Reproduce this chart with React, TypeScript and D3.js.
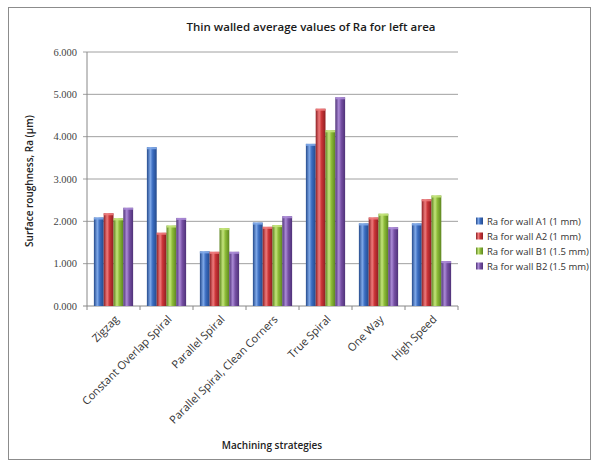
import React from "react";
import * as d3 from "d3";

const categories = [
  "Zigzag",
  "Constant Overlap Spiral",
  "Parallel Spiral",
  "Parallel Spiral, Clean Corners",
  "True Spiral",
  "One Way",
  "High Speed",
];
const seriesNames = [
  "Ra for wall A1 (1 mm)",
  "Ra for wall A2 (1 mm)",
  "Ra for wall B1 (1.5 mm)",
  "Ra for wall B2 (1.5 mm)",
];
const a1 = [2.09, 3.75, 1.29, 1.97, 3.83, 1.95, 1.95];
const a2 = [2.19, 1.73, 1.28, 1.87, 4.66, 2.09, 2.52];
const b1 = [2.07, 1.9, 1.84, 1.91, 4.15, 2.18, 2.61];
const b2 = [2.32, 2.08, 1.28, 2.12, 4.93, 1.86, 1.06];
const yTicks = [0, 1, 2, 3, 4, 5, 6];

const colors = ["#3a6cc0", "#c93437", "#8cbb38", "#7650a4"];
const lights = ["#7fa8e8", "#ee7b7c", "#c4e47c", "#ab8bd6"];
const darks = ["#244a8c", "#8e1e22", "#5d8520", "#4f3278"];

export default function App() {
  const W = 596, H = 468;
  const left = 87, right = 458, top = 52, bottom = 306;
  const series = [a1, a2, b1, b2];
  const x = d3.scaleBand<string>().domain(categories).range([left, right]).paddingInner(0.26).paddingOuter(0.13);
  const xs = d3.scaleBand<number>().domain([0, 1, 2, 3]).range([0, x.bandwidth()]);
  const y = d3.scaleLinear().domain([0, 6]).range([bottom, top]);
  const step = (right - left) / categories.length;
  const font = "'Open Sans', 'Liberation Sans', sans-serif";
  const serif = "'Liberation Serif', 'DejaVu Serif', serif";
  return (
    <svg width={W} height={H} style={{ position: "absolute", left: 0, top: 0 }}>
      <defs>
        {colors.map((c, i) => (
          <linearGradient key={i} id={`g${i}`} x1="0" x2="1" y1="0" y2="0">
            <stop offset="0" stopColor={darks[i]} />
            <stop offset="0.35" stopColor={lights[i]} />
            <stop offset="0.6" stopColor={c} />
            <stop offset="1" stopColor={darks[i]} />
          </linearGradient>
        ))}
      </defs>
      <rect x={0} y={0} width={W} height={H} fill="#fff" />
      <rect x={8.5} y={7.5} width={582} height={452} fill="#fff" stroke="#8c8c8c" strokeWidth={1} />
      <text x={311} y={31} textAnchor="middle" fontFamily={font} fontWeight={600} fontSize={11.5} fill="#1a1a1a">
        Thin walled average values of Ra for left area
      </text>
      {yTicks.map((t) => (
        <g key={t}>
          <line x1={left - 4} x2={right} y1={y(t)} y2={y(t)} stroke={t === 0 ? "#888" : "#a0a0a0"} strokeWidth={1} />
          <text x={77} y={y(t) + 3.5} textAnchor="end" fontFamily={serif} fontSize={10.5} fill="#444">
            {t.toFixed(3)}
          </text>
        </g>
      ))}
      <line x1={left} x2={left} y1={top} y2={bottom} stroke="#888" />
      {d3.range(categories.length + 1).map((i) => (
        <line key={i} x1={left + i * step} x2={left + i * step} y1={bottom} y2={bottom + 4} stroke="#888" />
      ))}
      {categories.map((c, ci) =>
        series.map((s, si) => {
          const bx = (x(c) as number) + (xs(si) as number);
          return (
            <g key={`${ci}-${si}`}>
              <rect x={bx} y={y(s[ci])} width={xs.bandwidth()} height={bottom - y(s[ci])} fill={`url(#g${si})`} />
              <rect x={bx} y={y(s[ci])} width={xs.bandwidth()} height={2} fill={lights[si]} opacity={0.9} />
            </g>
          );
        })
      )}
      {categories.map((c) => {
        const cx = (x(c) as number) + x.bandwidth() / 2 + 6;
        return (
          <text key={c} transform={`translate(${cx},${bottom + 14}) rotate(-45)`} textAnchor="end" fontFamily={font} fontSize={11} fill="#333">
            {c}
          </text>
        );
      })}
      <text transform={`translate(33,${(top + bottom) / 2 + 2}) rotate(-90)`} textAnchor="middle" fontFamily={font} fontWeight={600} fontSize={10} fill="#222">
        Surface roughness, Ra (µm)
      </text>
      <text x={272} y={449} textAnchor="middle" fontFamily={font} fontWeight={600} fontSize={10} fill="#222">
        Machining strategies
      </text>
      {seriesNames.map((n, i) => (
        <g key={n} transform={`translate(476,${221 + i * 15})`}>
          <rect x={0} y={-3.5} width={7} height={7} fill={`url(#g${i})`} />
          <text x={11} y={3.5} fontFamily={font} fontSize={9.5} fill="#333">
            {n}
          </text>
        </g>
      ))}
    </svg>
  );
}
